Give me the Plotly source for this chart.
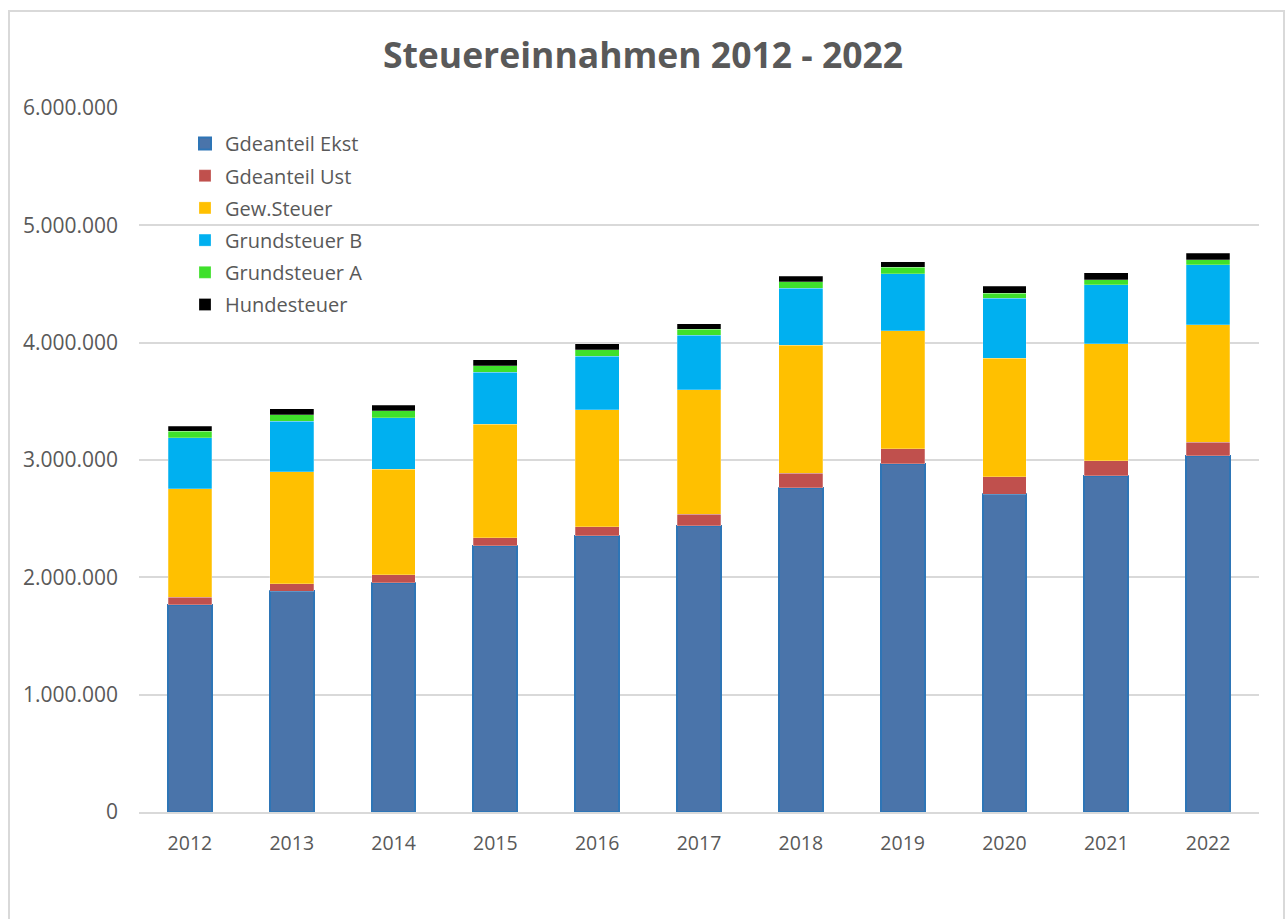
import plotly.graph_objects as go

years = ["2012", "2013", "2014", "2015", "2016", "2017", "2018", "2019", "2020", "2021", "2022"]

gdeanteil_ekst = [1767000, 1881000, 1954000, 2270000, 2355000, 2440000, 2764000, 2966000, 2708000, 2866000, 3037000]
gdeanteil_ust = [65000, 65000, 69000, 68000, 77000, 97000, 123000, 130000, 150000, 126000, 116000]
gew_steuer = [921000, 952000, 900000, 966000, 997000, 1062000, 1093000, 1006000, 1009000, 997000, 998000]
grundsteuer_b = [437000, 434000, 438000, 446000, 455000, 466000, 483000, 486000, 511000, 503000, 511000]
grundsteuer_a = [55000, 54000, 57000, 54000, 56000, 49000, 57000, 54000, 45000, 45000, 45000]
hundesteuer = [42000, 49000, 48000, 51000, 49000, 49000, 46000, 48000, 57000, 57000, 57000]

series = [
    ("Gdeanteil Ekst", gdeanteil_ekst, "#4A74AA"),
    ("Gdeanteil Ust", gdeanteil_ust, "#C0504D"),
    ("Gew.Steuer", gew_steuer, "#FFC000"),
    ("Grundsteuer B", grundsteuer_b, "#00B0F0"),
    ("Grundsteuer A", grundsteuer_a, "#3FE02B"),
    ("Hundesteuer", hundesteuer, "#000000"),
]

fig = go.Figure()
for i, (name, vals, col) in enumerate(series):
    if i == 0:
        line = dict(color="#2E75B6", width=2)
    else:
        line = dict(color="rgba(255,255,255,0.35)", width=0.7)
    fig.add_trace(go.Bar(
        x=years, y=vals, name=name, legendgroup=name,
        marker=dict(color=col, line=line),
        hovertemplate="%{x}: %{y:,.0f}<extra>" + name + "</extra>",
    ))

W, H = 1286, 919
L, R, T, B = 139, 27, 108, 107
pw, ph = W - L - R, H - T - B

fig.update_layout(
    width=W, height=H,
    margin=dict(l=L, r=R, t=T, b=B),
    barmode="stack",
    bargap=0.57,
    separators=",.",
    paper_bgcolor="white",
    plot_bgcolor="white",
    font=dict(family="Open Sans, sans-serif", color="#595959", size=18),
    title=dict(
        text="<b>Steuereinnahmen 2012 - 2022</b>",
        x=0.5, xanchor="center", xref="container",
        y=1 - 56 / H, yanchor="middle",
        font=dict(family="Open Sans, sans-serif", size=35.5, color="#595959"),
    ),
    xaxis=dict(
        showgrid=False, showline=True, linecolor="#D9D9D9", linewidth=2,
        ticks="", tickfont=dict(size=19.5, color="#595959"), ticklabelstandoff=13,
    ),
    yaxis=dict(
        range=[0, 6000000], dtick=1000000, tickformat=",.0f",
        showgrid=True, gridcolor="#D9D9D9", gridwidth=2,
        zeroline=False, showline=False, ticks="",
        tickfont=dict(size=21, color="#595959"), ticklabelstandoff=20,
    ),
    legend=dict(
        x=(185 - L) / pw, y=(H - B - 124) / ph, xanchor="left", yanchor="top",
        traceorder="grouped", tracegroupgap=3.2,
        font=dict(size=20, color="#595959"),
        bgcolor="rgba(0,0,0,0)", itemwidth=30,
    ),
    shapes=[dict(
        type="rect", xref="paper", yref="paper",
        x0=(9 - L) / pw, x1=(1284 - L) / pw,
        y0=(H - B - 930) / ph, y1=(H - B - 11) / ph,
        line=dict(color="#D9D9D9", width=2), fillcolor="rgba(0,0,0,0)", layer="below",
    )],
)

fig.write_html(
    "out.html",
    config={"displayModeBar": False},
    post_script="document.body.style.margin='0';document.body.style.overflow='hidden';",
)
